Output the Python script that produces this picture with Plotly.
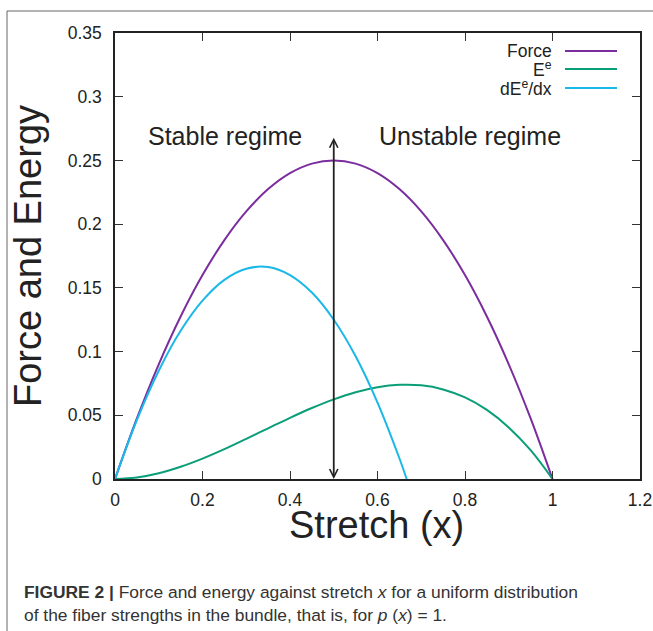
import plotly.graph_objects as go

# Data
x_force = [0, 0.05, 0.1, 0.15, 0.2, 0.25, 0.3, 0.35, 0.4, 0.45, 0.5,
           0.55, 0.6, 0.65, 0.7, 0.75, 0.8, 0.85, 0.9, 0.95, 1.0]
force = [0, 0.0475, 0.09, 0.1275, 0.16, 0.1875, 0.21, 0.2275, 0.24, 0.2475, 0.25,
         0.2475, 0.24, 0.2275, 0.21, 0.1875, 0.16, 0.1275, 0.09, 0.0475, 0]

x_energy = x_force
energy = [0, 0.0012, 0.0045, 0.0096, 0.016, 0.0234, 0.0315, 0.0398, 0.048, 0.0557, 0.0625,
          0.0681, 0.072, 0.0739, 0.0735, 0.0703, 0.064, 0.0542, 0.0405, 0.0226, 0]

x_deriv = [0, 0.05, 0.1, 0.15, 0.2, 0.25, 0.3, 0.35, 0.4, 0.45, 0.5, 0.55, 0.6, 0.65, 0.6667]
deriv = [0, 0.0463, 0.085, 0.1163, 0.14, 0.1563, 0.165, 0.1663, 0.16, 0.1463, 0.125,
         0.0963, 0.06, 0.0163, 0]

series_names = ["Force", "E<sup>e</sup>", "dE<sup>e</sup>/dx"]
series_colors = ["#7b2d9e", "#0a9e78", "#1ab8e8"]

x_ticks = [0, 0.2, 0.4, 0.6, 0.8, 1.0, 1.2]
y_ticks = [0, 0.05, 0.1, 0.15, 0.2, 0.25, 0.3, 0.35]

arrow_x = 0.5
arrow_top = 0.269

FONT = "Liberation Sans, Arial, Helvetica, sans-serif"

# plot-area geometry (pixels) used to place paper-coordinate decorations
W, H = 653, 631
L, R, T, B = 115, 13, 33, 152
PW, PH = W - L - R, H - T - B


def px(xp):
    return (xp - L) / PW


def py(yp):
    return (H - B - yp) / PH


fig = go.Figure()
for xs, ys, name, col in [(x_force, force, series_names[0], series_colors[0]),
                          (x_energy, energy, series_names[1], series_colors[1]),
                          (x_deriv, deriv, series_names[2], series_colors[2])]:
    fig.add_trace(go.Scatter(x=xs, y=ys, mode="lines", name=name,
                             line=dict(color=col, width=2, shape="spline", smoothing=1.0),
                             showlegend=False))

axis_common = dict(
    showline=True, linecolor="#222", linewidth=1.5, mirror="ticks",
    ticks="inside", ticklen=8, tickwidth=1, tickcolor="#333",
    showgrid=False, zeroline=False,
    tickfont=dict(family=FONT, size=17.5, color="#222"),
)

fig.update_xaxes(range=[0, 1.2], tickvals=x_ticks,
                 ticktext=["0", "0.2", "0.4", "0.6", "0.8", "1", "1.2"],
                 ticklabelstandoff=4, **axis_common)
fig.update_yaxes(range=[0, 0.35], tickvals=y_ticks,
                 ticktext=["0", "0.05", "0.1", "0.15", "0.2", "0.25", "0.3", "0.35"],
                 title=dict(text="Force and Energy", font=dict(family=FONT, size=38, color="#222"), standoff=14),
                 ticklabelstandoff=8, **axis_common)

annotations = []
# x axis title
annotations.append(dict(x=px(376), y=py(525), xref="paper", yref="paper", xanchor="center", yanchor="middle",
                        text="Stretch (x)", showarrow=False, font=dict(family=FONT, size=38, color="#222")))
# regime labels
annotations.append(dict(x=px(146), y=py(136), xref="paper", yref="paper", xanchor="left", yanchor="middle",
                        text="Stable regime", showarrow=False, font=dict(family=FONT, size=25, color="#222")))
annotations.append(dict(x=px(377), y=py(136), xref="paper", yref="paper", xanchor="left", yanchor="middle",
                        text="Unstable regime", showarrow=False, font=dict(family=FONT, size=25, color="#222")))
# double arrow
annotations.append(dict(x=arrow_x, y=0, ax=arrow_x, ay=arrow_top, xref="x", yref="y", axref="x", ayref="y",
                        text="", showarrow=True, arrowside="end+start", arrowhead=5, startarrowhead=5,
                        arrowsize=0.9, startarrowsize=0.9, arrowwidth=1.8, arrowcolor="#222",
                        standoff=0, startstandoff=0))

shapes = []
# legend (gnuplot style: text right, sample to the right)
leg_y = [51, 69, 88]
for name, col, yy in zip(series_names, series_colors, leg_y):
    annotations.append(dict(x=px(554), y=py(yy), xref="paper", yref="paper", xanchor="right", yanchor="middle",
                            text=name, showarrow=False, font=dict(family=FONT, size=17.5, color="#222")))
    shapes.append(dict(type="line", xref="paper", yref="paper", x0=px(565), x1=px(617), y0=py(yy), y1=py(yy),
                       line=dict(color=col, width=2)))

# caption
annotations.append(dict(x=px(22), y=py(592), xref="paper", yref="paper", xanchor="left", yanchor="middle",
                        text="<b>FIGURE 2 |</b> Force and energy against stretch <i>x</i> for a uniform distribution",
                        showarrow=False, font=dict(family=FONT, size=17.4, color="#333")))
annotations.append(dict(x=px(22), y=py(615), xref="paper", yref="paper", xanchor="left", yanchor="middle",
                        text="of the fiber strengths in the bundle, that is, for <i>p</i> (<i>x</i>) = 1.",
                        showarrow=False, font=dict(family=FONT, size=17.4, color="#333")))

# panel frame
shapes.append(dict(type="line", xref="paper", yref="paper", x0=px(7), x1=px(7), y0=py(11), y1=py(640),
                   line=dict(color="#666", width=1)))
shapes.append(dict(type="line", xref="paper", yref="paper", x0=px(7), x1=px(660), y0=py(11), y1=py(11),
                   line=dict(color="#666", width=1)))

fig.update_layout(
    width=W, height=H,
    margin=dict(l=L, r=R, t=T, b=B, autoexpand=False),
    paper_bgcolor="white", plot_bgcolor="white",
    annotations=annotations, shapes=shapes,
    font=dict(family=FONT),
)

fig.write_html("out.html")
